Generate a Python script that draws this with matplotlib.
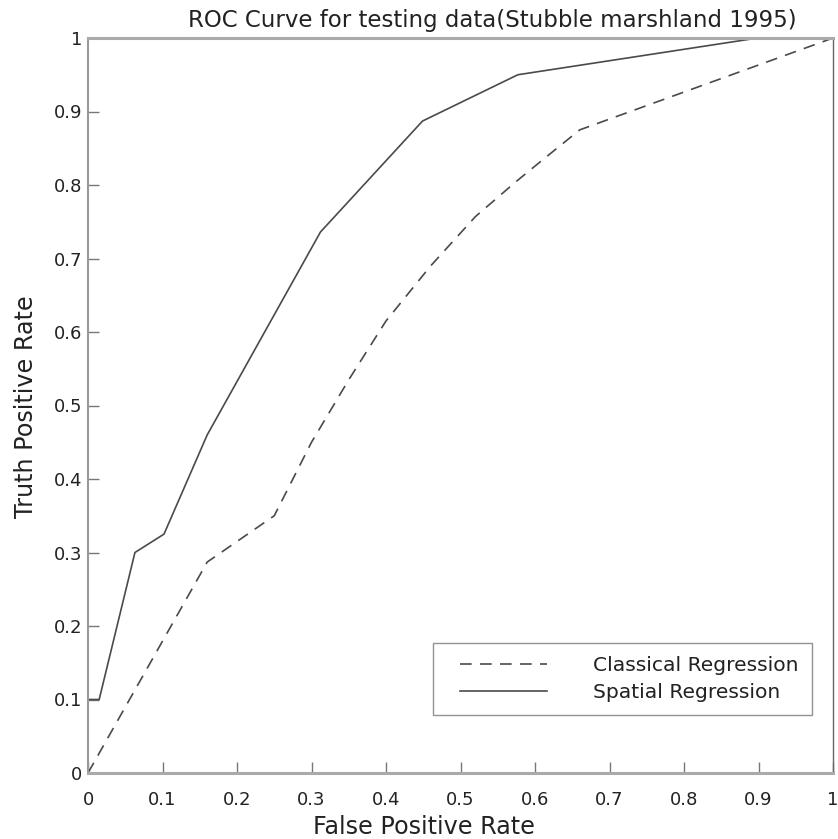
import matplotlib
matplotlib.use('Agg')
import matplotlib.pyplot as plt
from matplotlib.lines import Line2D
from matplotlib.legend_handler import HandlerLine2D

plt.rcParams['font.family'] = ['DejaVu Sans']

# ROC points
fpr_classical = [0.0, 0.16, 0.25, 0.30, 0.35, 0.40, 0.46, 0.52, 0.575, 0.61, 0.66, 1.0]
tpr_classical = [0.0, 0.287, 0.35, 0.45, 0.535, 0.615, 0.69, 0.757, 0.805, 0.834, 0.875, 1.0]

fpr_spatial = [0.0, 0.0, 0.015, 0.063, 0.102, 0.16, 0.312, 0.449, 0.577, 0.899, 1.0]
tpr_spatial = [0.0, 0.1, 0.1, 0.30, 0.325, 0.46, 0.736, 0.887, 0.950, 1.0, 1.0]

ticks = [0, 0.1, 0.2, 0.3, 0.4, 0.5, 0.6, 0.7, 0.8, 0.9, 1]
tick_labels = ['0', '0.1', '0.2', '0.3', '0.4', '0.5', '0.6', '0.7', '0.8', '0.9', '1']

W, H = 838, 839
L, R, T, B = 88, 833, 38, 773   # axes box in pixels
fig = plt.figure(figsize=(W / 100, H / 100), dpi=100)
ax = fig.add_axes([L / W, 1 - B / H, (R - L) / W, (B - T) / H])

def ax_x(px):
    return (px - L) / (R - L)

def ax_y(py):
    return (B - py) / (B - T)

line_col = '#4a4a4a'
ax.plot(fpr_classical, tpr_classical, color=line_col, lw=1.2,
        dashes=(7, 5), label='Classical Regression')
ax.plot(fpr_spatial, tpr_spatial, color=line_col, lw=1.2,
        label='Spatial Regression')

ax.set_xlim(0, 1)
ax.set_ylim(0, 1)
ax.set_xticks(ticks)
ax.set_xticklabels(tick_labels)
ax.set_yticks(ticks)
ax.set_yticklabels(tick_labels)
ax.tick_params(direction='in', length=8, width=1, color='#777777',
               labelsize=13, labelcolor='#222222')
ax.tick_params(axis='x', pad=13)
ax.tick_params(axis='y', pad=4)

ax.spines['top'].set(color='#aaaaaa', linewidth=2.2)
ax.spines['bottom'].set(color='#aaaaaa', linewidth=2.2)
ax.spines['left'].set(color='#999999', linewidth=1.5)
ax.spines['right'].set(color='#666666', linewidth=1.0)

ax.set_xlabel('False Positive Rate', fontsize=17.2, color='#222222')
ax.xaxis.set_label_coords(ax_x(424), ax_y(815))
ax.set_ylabel('Truth Positive Rate', fontsize=17.2, color='#222222')
ax.yaxis.set_label_coords(ax_x(38), ax_y(407))

fig.text(492 / W, 1 - 27 / H, 'ROC Curve for testing data(Stubble marshland 1995)',
         ha='center', va='baseline', fontsize=16.5, color='#222222')

leg = ax.legend(loc='upper left', bbox_to_anchor=(ax_x(433), ax_y(643)),
                fontsize=14.6, frameon=True, fancybox=False,
                handlelength=4.95, handletextpad=2.3, borderpad=0.65,
                labelspacing=0.4, borderaxespad=0,
                handler_map={Line2D: HandlerLine2D(xpad=0.7)})
leg.get_frame().set_edgecolor('#777777')
leg.get_frame().set_linewidth(1)
for t in leg.get_texts():
    t.set_color('#222222')

fig.savefig('out.png', dpi=100)
